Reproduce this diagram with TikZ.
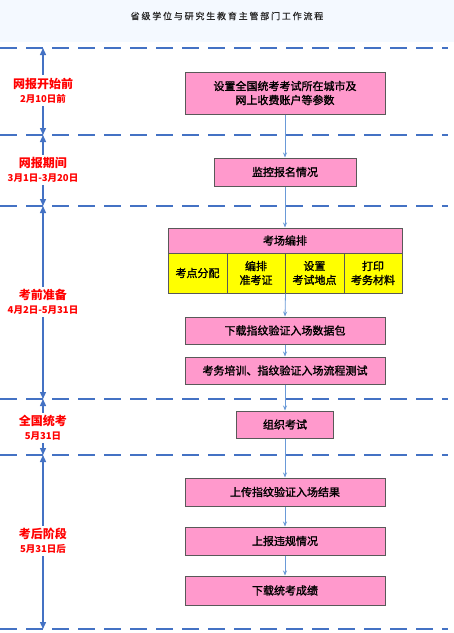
\documentclass[tikz,border=0pt]{standalone}
\usepackage{fontspec}
\setmainfont{Noto Sans CJK SC}
\newfontfamily\titlefont[LetterSpace=20,FakeBold=0.6]{Noto Sans CJK SC}
\newfontfamily\boxfont[FakeBold=1.6]{Noto Sans CJK SC}
\usetikzlibrary{arrows.meta}
\definecolor{dashblue}{HTML}{4472C4}
\definecolor{linkblue}{HTML}{6A9AD8}
\definecolor{boxpink}{HTML}{FF99CC}
\definecolor{cellyellow}{HTML}{FFFF00}
\definecolor{edgegrey}{HTML}{595959}
\definecolor{titlebg}{HTML}{F4F9FF}
\definecolor{labelred}{HTML}{FF0000}
\tikzset{
  stagebox/.style={draw=edgegrey, line width=1pt, fill=boxpink, align=center,
    inner sep=0pt, font=\fontsize{11}{14}\selectfont\boxfont},
  cellbox/.style={draw=edgegrey, line width=1pt, fill=cellyellow, align=center,
    inner sep=0pt, font=\fontsize{11}{14}\selectfont\boxfont},
  phaseline/.style={draw=dashblue, line width=2.6pt, dash pattern=on 17pt off 9pt},
  phasearrow/.style={draw=dashblue, line width=1.4pt, {Triangle[length=7pt,width=6pt]}-{Triangle[length=7pt,width=6pt]}},
  phaselabel/.style={fill=white, text=labelred, align=center, inner sep=2.5pt, font=\bfseries},
  link/.style={draw=linkblue, line width=0.8pt, -{Stealth[length=5pt,width=4pt]}},
}
\begin{document}
\begin{tikzpicture}[x=1pt,y=-1pt]
\useasboundingbox (0,0) rectangle (454,633);
\fill[white] (0,0) rectangle (454,633);
\fill[titlebg] (0,0) rectangle (454,42);
\node[font=\fontsize{9}{11}\selectfont\titlefont, text=black!85] (title) at (227,16) {省级学位与研究生教育主管部门工作流程};

% phase boundaries
\foreach \n/\y in {L0/48, L1/135, L2/206, L3/399, L4/455, L5/629} {
  \coordinate (\n) at (43,\y);
  \coordinate (\n e) at (448,\y);
  \coordinate (\n w) at (0,\y);
}
\foreach \n in {L0,L1,L2,L3,L4,L5} \draw[phaseline] (\n w) -- (\n e);

% phase arrows
\draw[phasearrow] (L0) -- (L1);
\draw[phasearrow] (L1) -- (L2);
\draw[phasearrow] (L2) -- (L3);
\draw[phasearrow] (L3) -- (L4);
\draw[phasearrow] (L4) -- (L5);

% phase labels
\node[phaselabel] (p1) at (43,90.5) {{\fontsize{12}{16}\selectfont 网报开始前}\\[2pt]{\fontsize{9.5}{12}\selectfont 2月10日前}};
\node[phaselabel] (p2) at (43,170) {{\fontsize{12}{16}\selectfont 网报期间}\\[2pt]{\fontsize{9.5}{12}\selectfont 3月1日-3月20日}};
\node[phaselabel] (p3) at (43,302) {{\fontsize{12}{16}\selectfont 考前准备}\\[2pt]{\fontsize{9.5}{12}\selectfont 4月2日-5月31日}};
\node[phaselabel] (p4) at (43,428) {{\fontsize{12}{16}\selectfont 全国统考}\\[2pt]{\fontsize{9.5}{12}\selectfont 5月31日}};
\node[phaselabel] (p5) at (43,541) {{\fontsize{12}{16}\selectfont 考后阶段}\\[2pt]{\fontsize{9.5}{12}\selectfont 5月31日后}};

% boxes
\node[stagebox, minimum width=200pt, minimum height=42pt] (b1) at (285,93) {设置全国统考考试所在城市及\\网上收费账户等参数};
\node[stagebox, minimum width=142pt, minimum height=28pt] (b2) at (285,172) {监控报名情况};
\node[stagebox, minimum width=234pt, minimum height=25pt] (hdr) at (285,240.5) {考场编排};
\node[cellbox, minimum width=59pt, minimum height=40pt] (c1) at (197.5,273) {考点分配};
\node[cellbox, minimum width=58pt, minimum height=40pt] (c2) at (256,273) {编排\\准考证};
\node[cellbox, minimum width=59pt, minimum height=40pt] (c3) at (314.5,273) {设置\\考试地点};
\node[cellbox, minimum width=58pt, minimum height=40pt] (c4) at (373,273) {打印\\考务材料};
\node[stagebox, minimum width=200pt, minimum height=27pt] (b4) at (285,330.5) {下载指纹验证入场数据包};
\node[stagebox, minimum width=200pt, minimum height=27pt] (b5) at (285,370.5) {考务培训、指纹验证入场流程测试};
\node[stagebox, minimum width=97pt, minimum height=27pt] (b6) at (285,424.5) {组织考试};
\node[stagebox, minimum width=200pt, minimum height=28pt] (b7) at (285,492) {上传指纹验证入场结果};
\node[stagebox, minimum width=200pt, minimum height=28pt] (b8) at (285,541) {上报违规情况};
\node[stagebox, minimum width=200pt, minimum height=29pt] (b9) at (285,590.5) {下载统考成绩};

% connectors
\draw[link] (b1.south) -- (b2.north);
\draw[link] (b2.south) -- (hdr.north);
\draw[link] (c2.south east) -- (b4.north);
\draw[link] (b4.south) -- (b5.north);
\draw[link] (b5.south) -- (b6.north);
\draw[link] (b6.south) -- (b7.north);
\draw[link] (b7.south) -- (b8.north);
\draw[link] (b8.south) -- (b9.north);
\end{tikzpicture}
\end{document}
